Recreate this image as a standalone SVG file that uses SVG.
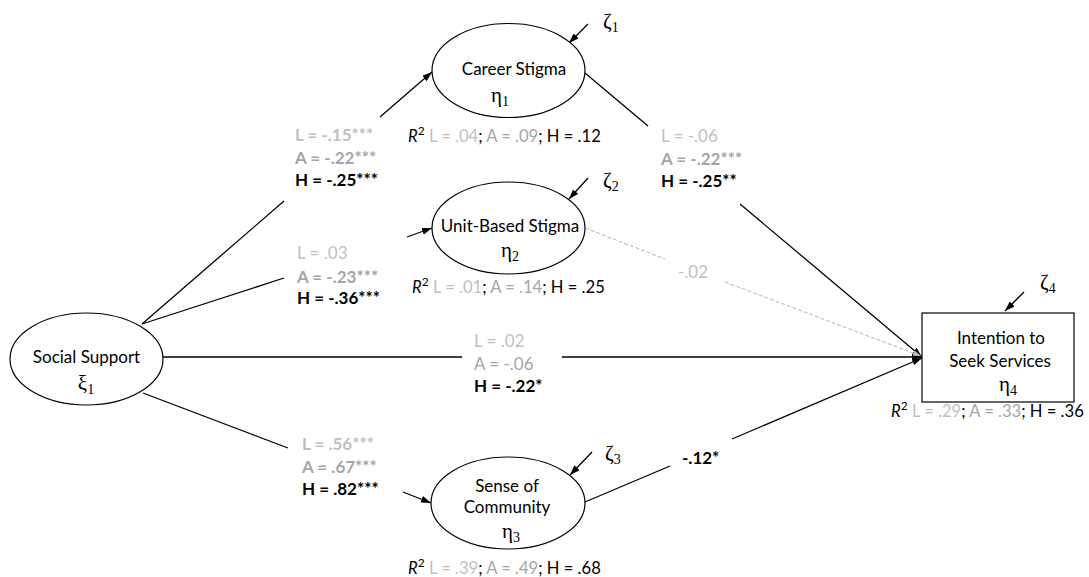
<svg xmlns="http://www.w3.org/2000/svg" width="1089" height="577" viewBox="0 0 1089 577" xml:space="preserve">
<defs>
<style>
.t{font-family:Lato,"Open Sans","Liberation Sans",sans-serif;font-size:17px;fill:#000}
.r2{font-size:16.6px}
.b{font-weight:bold}
.gl{fill:#bfbfbf}
.ga{fill:#a5a5a5}
.g{font-family:"Liberation Serif","DejaVu Serif",serif;font-size:21px;fill:#000}
.node{fill:#fff;stroke:#000;stroke-width:1.2}
.ln{stroke:#000;stroke-width:1.3;fill:none}
.dash{stroke:#bfbfbf;stroke-width:1.1;fill:none;stroke-dasharray:4 2}
</style>
<marker id="ah" viewBox="0 0 10 7" refX="10" refY="3.5" markerWidth="10" markerHeight="7" markerUnits="userSpaceOnUse" orient="auto"><path d="M0,0 L10,3.5 L0,7 z" fill="#000"/></marker>
<marker id="ahg" viewBox="0 0 10 7" refX="10" refY="3.5" markerWidth="8" markerHeight="6" markerUnits="userSpaceOnUse" orient="auto"><path d="M0,0 L10,3.5 L0,7 z" fill="#bfbfbf"/></marker>
</defs>
<rect width="1089" height="577" fill="#fff"/>
<g id="connectors">
<line class="ln" x1="142" y1="324" x2="284" y2="201"/>
<line class="ln" x1="380" y1="117" x2="432" y2="72" marker-end="url(#ah)"/>
<line class="ln" x1="142" y1="324" x2="284" y2="278"/>
<line class="ln" x1="407" y1="237" x2="432" y2="228" marker-end="url(#ah)"/>
<line class="ln" x1="163" y1="357" x2="462" y2="357"/>
<line class="ln" x1="562" y1="357" x2="922" y2="357" marker-end="url(#ah)"/>
<line class="ln" x1="143" y1="393" x2="288" y2="448"/>
<line class="ln" x1="403" y1="492" x2="431" y2="503" marker-end="url(#ah)"/>
<line class="ln" x1="585" y1="73" x2="648" y2="126"/>
<line class="ln" x1="740" y1="204" x2="922" y2="357" marker-end="url(#ah)"/>
<line class="dash" x1="585" y1="228" x2="665" y2="259"/>
<line class="dash" x1="725" y1="282" x2="921" y2="356" marker-end="url(#ahg)"/>
<line class="ln" x1="585" y1="502" x2="670" y2="466"/>
<line class="ln" x1="732" y1="439" x2="922" y2="358" marker-end="url(#ah)"/>
<line class="ln" x1="588" y1="24" x2="569" y2="43" marker-end="url(#ah)"/>
<line class="ln" x1="588" y1="178" x2="569" y2="199" marker-end="url(#ah)"/>
<line class="ln" x1="592" y1="452" x2="570" y2="475" marker-end="url(#ah)"/>
<line class="ln" x1="1024" y1="292" x2="1005" y2="311" marker-end="url(#ah)"/>
</g>
<g id="social-support">
<ellipse class="node" cx="86.5" cy="359" rx="76.5" ry="46"/>
<text class="t" x="86.5" y="363" text-anchor="middle">Social Support</text>
<text class="g" x="86" y="390" text-anchor="middle">ξ<tspan font-size="14" dy="4">1</tspan></text>
</g>
<g id="career-stigma">
<ellipse class="node" cx="508.5" cy="70.5" rx="76.5" ry="47"/>
<text class="t" x="514" y="75" text-anchor="middle">Career Stigma</text>
<text class="g" x="500" y="102" text-anchor="middle">η<tspan font-size="14" dy="4">1</tspan></text>
<text class="g" x="603" y="28">ζ<tspan font-size="14" dy="4">1</tspan></text>
<text class="t r2" x="408" y="142"><tspan font-style="italic">R</tspan><tspan font-size="12" dy="-7">2</tspan><tspan dy="7" class="gl"> L = .04</tspan>; <tspan class="ga">A = .09</tspan>; H = .12</text>
</g>
<g id="unit-stigma">
<ellipse class="node" cx="508.5" cy="228" rx="76.5" ry="46"/>
<text class="t" x="510" y="232" text-anchor="middle">Unit-Based Stigma</text>
<text class="g" x="510" y="257" text-anchor="middle">η<tspan font-size="14" dy="4">2</tspan></text>
<text class="g" x="603" y="187">ζ<tspan font-size="14" dy="4">2</tspan></text>
<text class="t r2" x="412" y="293"><tspan font-style="italic">R</tspan><tspan font-size="12" dy="-7">2</tspan><tspan dy="7" class="gl"> L = .01</tspan>; <tspan class="ga">A = .14</tspan>; H = .25</text>
</g>
<g id="sense-community">
<ellipse class="node" cx="508" cy="503" rx="77" ry="46"/>
<text class="t" x="507" y="492" text-anchor="middle">Sense of</text>
<text class="t" x="507" y="513" text-anchor="middle">Community</text>
<text class="g" x="511" y="538" text-anchor="middle">η<tspan font-size="14" dy="4">3</tspan></text>
<text class="g" x="605" y="460">ζ<tspan font-size="14" dy="4">3</tspan></text>
<text class="t r2" x="408" y="574"><tspan font-style="italic">R</tspan><tspan font-size="12" dy="-7">2</tspan><tspan dy="7" class="gl"> L = .39</tspan>; <tspan class="ga">A = .49</tspan>; H = .68</text>
</g>
<g id="intention">
<rect class="node" x="922" y="313" width="152" height="89"/>
<text class="t" x="1001" y="344" text-anchor="middle">Intention to</text>
<text class="t" x="1000" y="367" text-anchor="middle">Seek Services</text>
<text class="g" x="1008" y="391" text-anchor="middle">η<tspan font-size="14" dy="4">4</tspan></text>
<text class="g" x="1040" y="289">ζ<tspan font-size="14" dy="4">4</tspan></text>
<text class="t r2" x="891" y="417"><tspan font-style="italic">R</tspan><tspan font-size="12" dy="-7">2</tspan><tspan dy="7" class="gl"> L = .29</tspan>; <tspan class="ga">A = .33</tspan>; H = .36</text>
</g>
<g id="path-labels">
<text class="t b gl" x="295" y="141">L = -.15***</text>
<text class="t b ga" x="295" y="164">A = -.22***</text>
<text class="t b" x="295" y="186">H = -.25***</text>
<text class="t gl" x="297" y="259">L = .03</text>
<text class="t b ga" x="297" y="283">A = -.23***</text>
<text class="t b" x="297" y="304">H = -.36***</text>
<text class="t gl" x="474" y="347">L = .02</text>
<text class="t ga" x="474" y="370">A = -.06</text>
<text class="t b" x="474" y="392">H = -.22*</text>
<text class="t b gl" x="302" y="450">L = .56***</text>
<text class="t b ga" x="302" y="473">A = .67***</text>
<text class="t b" x="302" y="495">H = .82***</text>
<text class="t gl" x="661" y="142">L = -.06</text>
<text class="t b ga" x="661" y="165">A = -.22***</text>
<text class="t b" x="661" y="187">H = -.25**</text>
<text class="t gl" x="678" y="278">-.02</text>
<text class="t b" x="682" y="464">-.12*</text>
</g>
</svg>
